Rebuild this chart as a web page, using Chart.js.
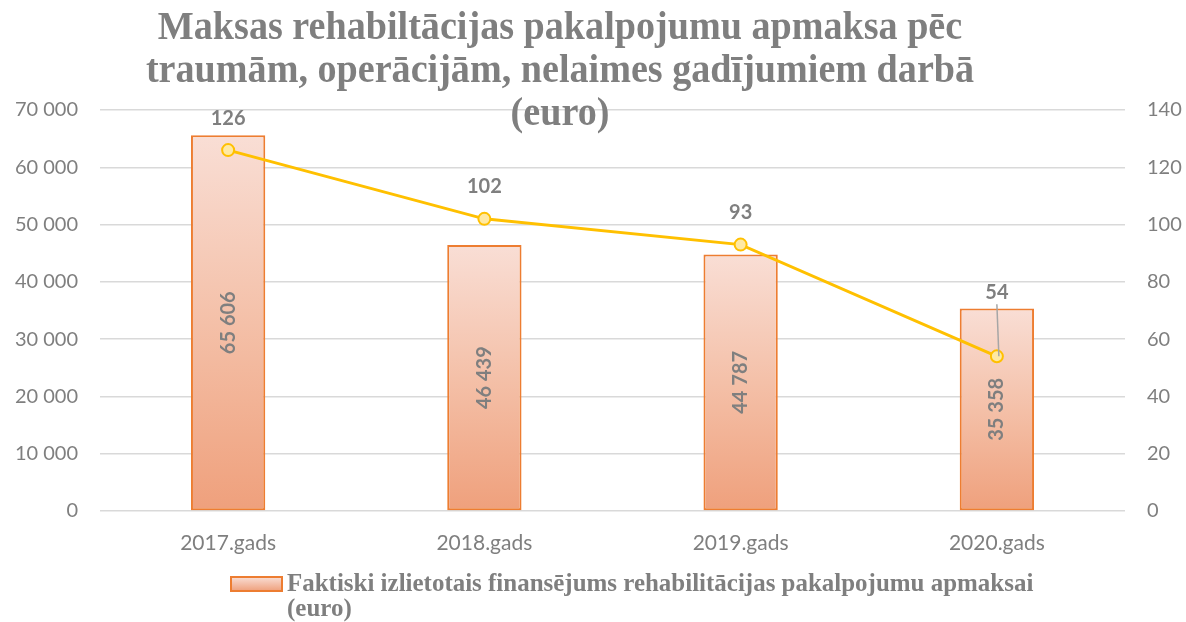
<!DOCTYPE html>
<html><head><meta charset="utf-8">
<script src="https://cdn.jsdelivr.net/npm/chart.js@4/dist/chart.umd.min.js"></script>
<style>html,body{margin:0;padding:0;background:#fff}</style>
</head><body>
<canvas id="c" width="1186" height="622"></canvas>
<script>
const categories = ["2017.gads", "2018.gads", "2019.gads", "2020.gads"];
const spending = [65606, 46439, 44787, 35358];
const counts = [126, 102, 93, 54];
const titleLines = ["Maksas rehabiltācijas pakalpojumu apmaksa pēc", "traumām, operācijām, nelaimes gadījumiem darbā", "(euro)"];
const legendLines = ["Faktiski izlietotais finansējums rehabilitācijas pakalpojumu apmaksai", "(euro)"];
const barLabel = "Faktiski izlietotais finansējums rehabilitācijas pakalpojumu apmaksai (euro)";
const lineLabel = "Skaits";

const GRAY = '#7f7f7f';
const fmt = v => String(Math.round(v)).replace(/\B(?=(\d{3})+(?!\d))/g, ' ');

function barGradient(c) {
  const chart = c.chart;
  const y = chart.scales.y;
  if (!y || c.dataIndex === undefined || y.top === undefined) return '#f3b89d';
  const top = y.getPixelForValue(spending[c.dataIndex]);
  const bot = y.getPixelForValue(0);
  if (!isFinite(top) || !isFinite(bot) || top === bot) return '#f3b89d';
  const g = chart.ctx.createLinearGradient(0, top, 0, bot);
  g.addColorStop(0, '#f9ded5');
  g.addColorStop(0.5, '#f4c0a8');
  g.addColorStop(1, '#efa07c');
  return g;
}

const overlay = {
  id: 'overlay',
  afterDatasetsDraw(chart) {
    const ctx = chart.ctx;
    const bm = chart.getDatasetMeta(0);
    ctx.save();
    ctx.fillStyle = GRAY;
    ctx.font = 'bold 20px Lato';
    ctx.textAlign = 'center';
    ctx.textBaseline = 'middle';
    bm.data.forEach((el, i) => {
      const cy = (el.y + el.base) / 2;
      ctx.save();
      ctx.translate(el.x, cy);
      ctx.rotate(-Math.PI / 2);
      ctx.fillText(fmt(spending[i]), 0, 0);
      ctx.restore();
    });
    const lm = chart.getDatasetMeta(1);
    const offs = [32, 32, 32, 64];
    lm.data.forEach((el, i) => {
      const ly = el.y - offs[i];
      if (offs[i] > 40) {
        ctx.strokeStyle = '#a6a6a6';
        ctx.lineWidth = 1.5;
        ctx.beginPath();
        ctx.moveTo(el.x, ly + 12);
        ctx.lineTo(el.x + 2, el.y);
        ctx.stroke();
      }
      ctx.fillText(String(counts[i]), el.x, ly);
    });
    ctx.restore();
  },
  afterDraw(chart) {
    const ctx = chart.ctx;
    ctx.save();
    ctx.fillStyle = GRAY;
    ctx.textBaseline = 'middle';
    ctx.font = 'bold 41px "Liberation Serif"';
    ctx.textAlign = 'center';
    const ty = [28, 71, 114];
    titleLines.forEach((t, i) => {
      ctx.save();
      ctx.translate(560, ty[i]);
      ctx.scale(0.93, 1);
      ctx.fillText(t, 0, 0);
      ctx.restore();
    });
    const bx = 231, by = 577, bw = 51, bh = 14;
    const g = ctx.createLinearGradient(0, by, 0, by + bh);
    g.addColorStop(0, '#f9ded5'); g.addColorStop(1, '#efa07c');
    ctx.fillStyle = g;
    ctx.fillRect(bx, by, bw, bh);
    ctx.strokeStyle = '#ed7d31';
    ctx.lineWidth = 2;
    ctx.strokeRect(bx, by, bw, bh);
    ctx.fillStyle = GRAY;
    ctx.font = 'bold 26px "Liberation Serif"';
    ctx.textAlign = 'left';
    const ly = [584, 609];
    legendLines.forEach((t, i) => {
      ctx.save();
      ctx.translate(287, ly[i]);
      ctx.scale(0.96, 1);
      ctx.fillText(t, 0, 0);
      ctx.restore();
    });
    ctx.restore();
  }
};

new Chart(document.getElementById('c'), {
  data: {
    labels: categories,
    datasets: [
      {
        type: 'bar', label: barLabel, data: spending, yAxisID: 'y',
        backgroundColor: barGradient, borderColor: '#ed7d31', borderWidth: 2,
        borderSkipped: false,
        categoryPercentage: 1, barPercentage: 0.29, order: 2
      },
      {
        type: 'line', label: lineLabel, data: counts, yAxisID: 'y1',
        borderColor: '#ffc000', borderWidth: 3, tension: 0,
        pointRadius: 6, pointBackgroundColor: '#ffe9a3', pointBorderColor: '#ffc000',
        pointBorderWidth: 2, order: 1
      }
    ]
  },
  options: {
    responsive: false, animation: false,
    layout: { padding: { top: 110, left: 0, right: 0, bottom: 0 } },
    plugins: { legend: { display: false }, title: { display: false }, tooltip: { enabled: false } },
    scales: {
      x: {
        grid: { display: false }, border: { display: false },
        ticks: { color: GRAY, font: { family: 'Lato', size: 21 }, padding: 12 },
        afterFit: s => { s.height = 111; }
      },
      y: {
        position: 'left', min: 0, max: 70000,
        ticks: { stepSize: 10000, color: GRAY, font: { family: 'Lato', size: 20 }, padding: 22, callback: v => fmt(v) },
        grid: { color: '#d9d9d9', lineWidth: 1.5, drawTicks: false },
        border: { display: false },
        afterFit: s => { s.width = 100; }
      },
      y1: {
        position: 'right', min: 0, max: 140,
        ticks: { stepSize: 20, color: GRAY, font: { family: 'Lato', size: 20 }, padding: 22 },
        grid: { display: false, drawTicks: false }, border: { display: false },
        afterFit: s => { s.width = 61; }
      }
    }
  },
  plugins: [overlay]
});
</script>
</body></html>
